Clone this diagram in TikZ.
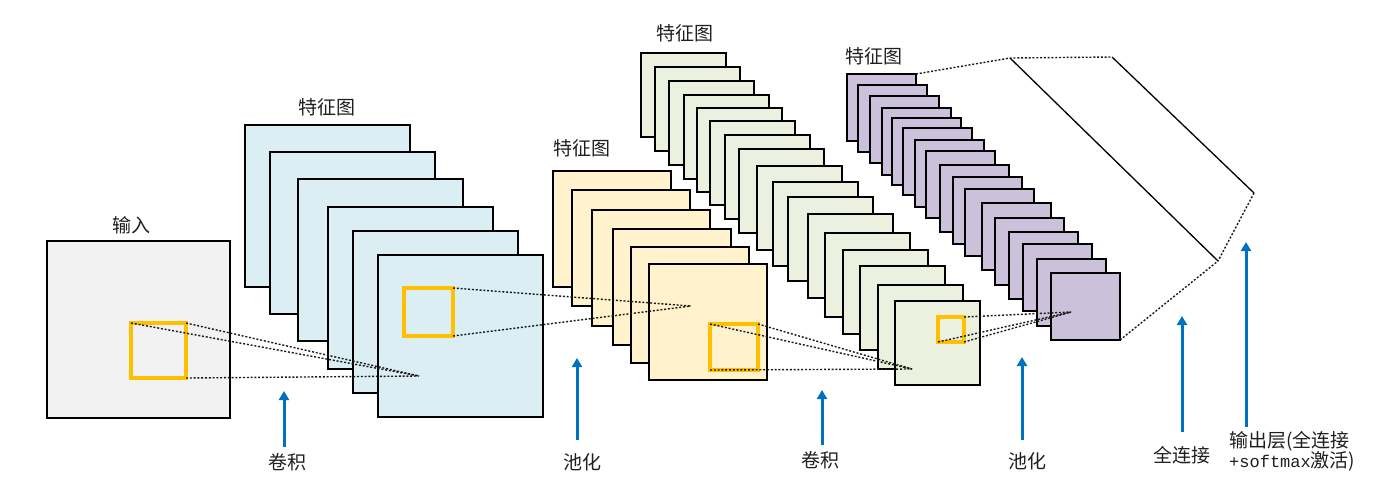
\documentclass[tikz,border=0pt]{standalone}
\usepackage{fontspec}
\setmainfont{Noto Sans CJK SC}
\newfontfamily\monof{Liberation Mono}
\usetikzlibrary{arrows.meta}
\definecolor{inputC}{HTML}{F2F2F2}
\definecolor{blueC}{HTML}{DAEEF3}
\definecolor{yellowC}{HTML}{FFF2CC}
\definecolor{greenC}{HTML}{EBF1DE}
\definecolor{purpleC}{HTML}{CCC1DA}
\definecolor{orangeC}{HTML}{FFC000}
\definecolor{arrowC}{HTML}{0070C0}
\definecolor{dotC}{HTML}{1A1A1A}
\tikzset{
  fmap/.style={draw=black, line width=1.2pt, inner sep=0pt, outer sep=0pt, anchor=north west},
  inmap/.style={fmap, fill=inputC, minimum width=183pt, minimum height=177pt},
  bluemap/.style={fmap, fill=blueC, minimum width=165pt, minimum height=162pt},
  yelmap/.style={fmap, fill=yellowC, minimum width=118pt, minimum height=116pt},
  grnmap/.style={fmap, fill=greenC, minimum width=85pt, minimum height=84pt},
  purmap/.style={fmap, fill=purpleC, minimum width=69pt, minimum height=67pt},
  win/.style={draw=orangeC, line width=3.5pt, inner sep=0pt, outer sep=0pt, anchor=north west},
  link/.style={draw=dotC, line width=1.4pt, dash pattern=on 2pt off 1.8pt},
  fcline/.style={draw=black, line width=1.3pt},
  flow/.style={draw=arrowC, line width=3pt, -{Triangle[width=10pt,length=9pt]}},
  lbl/.style={font=\fontsize{19}{20.5}\selectfont, inner sep=0pt, text=black!88}
}
\begin{document}
\begin{tikzpicture}[x=1pt,y=-1pt]
\useasboundingbox (0,0) rectangle (1388,496);

% input
\node[inmap] (in) at (47,241) {};
\node[lbl] (lin) at (131,225) {输入};

% blue feature maps
\foreach \x/\y [count=\i] in {245/125,270/152,298/179,328/207,353/231,378/255}
  \node[bluemap] (b\i) at (\x,\y) {};
\node[lbl] (lb) at (327,107) {特征图};

% yellow feature maps
\foreach \x/\y [count=\i] in {553/171,572/190,592/210,613/229,631/247,649/264}
  \node[yelmap] (y\i) at (\x,\y) {};
\node[lbl] (ly) at (582,148) {特征图};

% green feature maps
\foreach \x/\y [count=\i] in {641/53,655/67,669/81,684/95,697/108,710/121,725/135,739/149,757/166,773/182,788/197,808/214,825/233,843/250,860/266,878/285,895/301}
  \node[grnmap] (g\i) at (\x,\y) {};
\node[lbl] (lg) at (685,33) {特征图};

% purple feature maps
\foreach \x/\y [count=\i] in {847/74,858/85,870/96,882/108,892/118,903/128,915/140,926/151,940/165,953/177,965/189,982/203,995/218,1009/232,1023/244,1037/259,1051/273}
  \node[purmap] (p\i) at (\x,\y) {};
\node[lbl] (lp) at (874,56) {特征图};

% orange windows
\node[win, minimum width=55pt, minimum height=55pt] (w0) at (131,323) {};
\node[win, minimum width=49pt, minimum height=48pt] (w1) at (404,288) {};
\node[win, minimum width=48pt, minimum height=46pt] (w2) at (710,324) {};
\node[win, minimum width=26pt, minimum height=25pt] (w3) at (938,317) {};

% convergence points
\coordinate (c1) at (419,376);
\coordinate (c2) at (691,306);
\coordinate (c3) at (912,369);
\coordinate (c4) at (1071,312);

\draw[link] (w0.north west) -- (c1);
\draw[link] (w0.north east) -- (c1);
\draw[link] (w0.south east) -- (c1);
\draw[link] (w1.north east) -- (c2);
\draw[link] (w1.south east) -- (c2);
\draw[link] (w2.north west) -- (c3);
\draw[link] (w2.north east) -- (c3);
\draw[link] (w2.south west) -- (c3);
\draw[link] (w3.north east) -- (c4);
\draw[link] (w3.south west) -- (c4);
\draw[link] (w3.south east) -- (c4);

% fully connected layer
\coordinate (f1) at (1010,58);
\coordinate (f2) at (1112,57);
\coordinate (f3) at (1254,193);
\coordinate (f4) at (1218,261);
\draw[link] (p1.north east) -- (f1) -- (f2);
\draw[fcline] (f2) -- (f3);
\draw[link] (f3) -- (f4);
\draw[fcline] (f1) -- (f4);
\draw[link] (p17.south east) -- (f4);

% arrows
\coordinate (a1s) at (284,447); \coordinate (a1e) at (284,391);
\coordinate (a2s) at (577,440); \coordinate (a2e) at (577,358);
\coordinate (a3s) at (822,445); \coordinate (a3e) at (822,390);
\coordinate (a4s) at (1022,440); \coordinate (a4e) at (1022,357);
\coordinate (a5s) at (1182,432); \coordinate (a5e) at (1182,316);
\coordinate (a6s) at (1246,427); \coordinate (a6e) at (1246,242);
\draw[flow] (a1s) -- (a1e);
\draw[flow] (a2s) -- (a2e);
\draw[flow] (a3s) -- (a3e);
\draw[flow] (a4s) -- (a4e);
\draw[flow] (a5s) -- (a5e);
\draw[flow] (a6s) -- (a6e);

% labels
\node[lbl] (t1) at (287,462) {卷积};
\node[lbl] (t2) at (582,462) {池化};
\node[lbl] (t3) at (820,460) {卷积};
\node[lbl] (t4) at (1027,461) {池化};
\node[lbl] (t5) at (1182,455) {全连接};
\node[lbl, anchor=north west, align=left] (t6) at (1229,431) {输出层(全连接\\{\monof\fontsize{17}{20}\selectfont +softmax}激活)};
\end{tikzpicture}
\end{document}
